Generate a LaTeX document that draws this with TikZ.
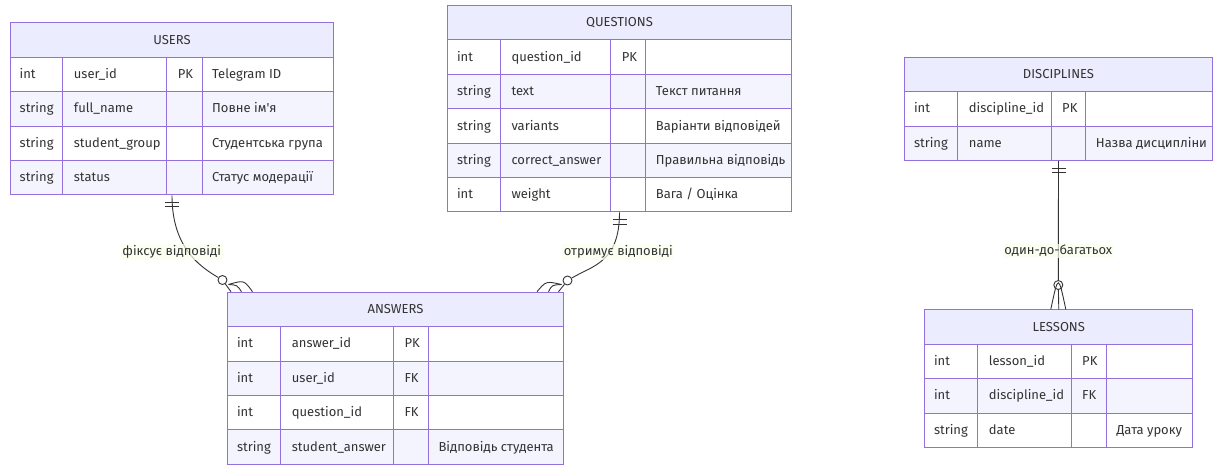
\documentclass[tikz,border=0pt]{standalone}
\usepackage{fontspec}
\setmainfont{Fira Sans}
\usepackage{tikz}

\definecolor{erBorder}{HTML}{9370DB}
\definecolor{erHead}{HTML}{ECECFF}
\definecolor{erEven}{HTML}{F4F4FF}
\definecolor{erInk}{HTML}{333333}
\definecolor{erLabel}{HTML}{F9FFEC}

\tikzset{
  erfont/.style={font=\fontsize{13}{15}\selectfont,text=erInk},
  erhead/.style={draw=erBorder,fill=erHead,line width=1pt,inner sep=0pt,
                 minimum height=34.4pt,erfont},
  errow/.style={draw=erBorder,line width=1pt,inner sep=0pt,minimum height=34.4pt},
  erline/.style={draw=erBorder,line width=1pt},
  ertext/.style={erfont,inner sep=0pt,anchor=base west},
  erlink/.style={draw=erInk,line width=0.9pt},
  ercirc/.style={circle,draw=erInk,fill=white,line width=0.9pt,minimum size=9pt,inner sep=0pt},
  erlabel/.style={erfont,fill=erLabel,fill opacity=0.7,text opacity=1,inner sep=1.5pt},
}

% name, left, top, three column x, right, title, rows type/name/key/comment
\newcommand{\ertable}[9]{%
  \node[erhead,anchor=north west,minimum width={(#7-#2)*1pt}] (#1) at (#2,#3) {#8};
  \foreach \ty/\nm/\ky/\cm [count=\i] in {#9}{
    \pgfmathtruncatemacro\shade{mod(\i+1,2)*100}
    \node[errow,anchor=north west,minimum width={(#7-#2)*1pt},fill=erEven!\shade!white]
      (#1-\i) at (#2,{#3+34.4*\i}) {};
    \draw[erline] (#4,{#3+34.4*\i}) -- ++(0,34.4)
                  (#5,{#3+34.4*\i}) -- ++(0,34.4)
                  (#6,{#3+34.4*\i}) -- ++(0,34.4);
    \node[ertext] (#1-\i-t) at ({#2+9.5},{#3+34.4*\i+21.8}) {\ty};
    \node[ertext] (#1-\i-n) at ({#4+11},{#3+34.4*\i+21.8}) {\nm};
    \node[ertext] (#1-\i-k) at ({#5+11},{#3+34.4*\i+21.8}) {\ky};
    \node[ertext] (#1-\i-c) at ({#6+10},{#3+34.4*\i+21.8}) {\cm};
  }%
}

\begin{document}
\begin{tikzpicture}[x=1pt,y=-1pt]
\useasboundingbox (0,0) rectangle (1216,464);
% entities
\ertable{users}{10}{22.3}{62.7}{166.7}{202}{333}{USERS}{
  int/user\_id/PK/Telegram ID,
  string/full\_name//Повне ім\textquotesingle я,
  string/student\_group//Студентська група,
  string/status//Статус модерації}
\ertable{questions}{447.3}{5}{500.3}{610.7}{645.7}{790.7}{QUESTIONS}{
  int/question\_id/PK/,
  string/text//Текст питання,
  string/variants//Варіанти відповідей,
  string/correct\_answer//Правильна відповідь,
  int/weight//{Вага / Оцінка}}
\ertable{disciplines}{904.3}{56.7}{957.7}{1051}{1085.7}{1211.7}{DISCIPLINES}{
  int/discipline\_id/PK/,
  string/name//Назва дисципліни}
\ertable{answers}{227.3}{291.7}{280.7}{393.3}{428.3}{562.7}{ANSWERS}{
  int/answer\_id/PK/,
  int/user\_id/FK/,
  int/question\_id/FK/,
  string/student\_answer//Відповідь студента}
\ertable{lessons}{924.3}{309.3}{977.7}{1071}{1106.3}{1192.3}{LESSONS}{
  int/lesson\_id/PK/,
  int/discipline\_id/FK/,
  string/date//Дата уроку}

% users -> answers
\node[ercirc] (c1) at (222.5,280) {};
\draw[erlink] (users-4.south) .. controls +(0,50) and +(-25.5,-15) .. (c1);
\draw[erlink] (users-4.south) ++(-7,7) -- ++(14,0) ++(-14,4.5) -- ++(14,0);
\draw[erlink] (c1) -- (231,291.7);
\draw[erlink] (228.5,284.5) .. controls (244,280) .. (252.5,291.7);
\draw[erlink] (228.5,284.5) .. controls (237,285) .. (241.5,291.7);

% questions -> answers
\node[ercirc] (c2) at (567.5,280.5) {};
\draw[erlink] (questions-5.south) .. controls +(0,50) and +(25.5,-15) .. (c2);
\draw[erlink] (questions-5.south) ++(-7,7.5) -- ++(14,0) ++(-14,4.5) -- ++(14,0);
\draw[erlink] (c2) -- (558.5,291.7);
\draw[erlink] (561.5,284.5) .. controls (546,281) .. (537,291.7);
\draw[erlink] (561.5,284.5) .. controls (552,285) .. (548.5,291.7);

% disciplines -> lessons
\node[ercirc] (c3) at (1058.3,285) {};
\draw[erlink] (disciplines-2.south) -- (c3);
\draw[erlink] (disciplines-2.south) ++(-7,7.3) -- ++(14,0) ++(-14,4.4) -- ++(14,0);
\draw[erlink] (c3) -- (lessons.north);
\draw[erlink] (1050.8,309.3) .. controls (1058.3,274) .. (1065.8,309.3);

% relationship labels
\node[erlabel] (l1) at (171.7,251.7) {фіксує відповіді};
\node[erlabel] (l2) at (618.3,251.7) {отримує відповіді};
\node[erlabel] (l3) at (1058.3,251) {один-до-багатьох};
\end{tikzpicture}
\end{document}
